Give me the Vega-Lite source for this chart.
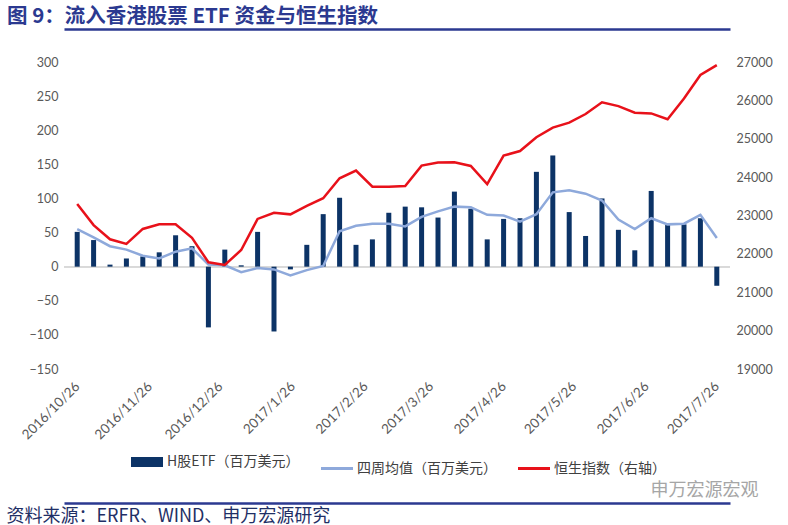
{
  "$schema": "https://vega.github.io/schema/vega-lite/v6.json",
  "autosize": "none",
  "width": 666,
  "height": 307,
  "padding": {"left": 64, "top": 62, "right": 58, "bottom": 156},
  "background": "white",
  "config": {"view": {"stroke": null}, "font": "Noto Sans CJK SC", "axis": {"labelOverlap": false}},
  "title": {
    "text": "图 9：流入香港股票 ETF 资金与恒生指数",
    "anchor": "start",
    "frame": "group",
    "dx": -57,
    "offset": 2,
    "font": "Noto Sans CJK SC",
    "fontSize": 20.5,
    "fontWeight": "bold",
    "color": "#2B3990"
  },
  "data": {
    "values": [
      {"date": "2016-10-26", "etf": 51, "ma4": 55, "hsi": 23300},
      {"date": "2016-11-02", "etf": 39, "ma4": 43, "hsi": 22750},
      {"date": "2016-11-09", "etf": 3, "ma4": 30, "hsi": 22380},
      {"date": "2016-11-16", "etf": 12, "ma4": 25, "hsi": 22260},
      {"date": "2016-11-23", "etf": 15, "ma4": 16, "hsi": 22650},
      {"date": "2016-11-30", "etf": 21, "ma4": 12, "hsi": 22770},
      {"date": "2016-12-07", "etf": 46, "ma4": 22, "hsi": 22770},
      {"date": "2016-12-14", "etf": 30, "ma4": 27, "hsi": 22420},
      {"date": "2016-12-21", "etf": -89, "ma4": 3, "hsi": 21780},
      {"date": "2016-12-28", "etf": 25, "ma4": 2, "hsi": 21710},
      {"date": "2017-01-04", "etf": 2, "ma4": -8, "hsi": 22100},
      {"date": "2017-01-11", "etf": 51, "ma4": -2, "hsi": 22910},
      {"date": "2017-01-18", "etf": -95, "ma4": -4, "hsi": 23070},
      {"date": "2017-01-25", "etf": -4, "ma4": -13, "hsi": 23030},
      {"date": "2017-02-01", "etf": 32, "ma4": -5, "hsi": 23250},
      {"date": "2017-02-08", "etf": 77, "ma4": 1, "hsi": 23450},
      {"date": "2017-02-15", "etf": 101, "ma4": 52, "hsi": 23970},
      {"date": "2017-02-22", "etf": 32, "ma4": 60, "hsi": 24170},
      {"date": "2017-03-01", "etf": 40, "ma4": 63, "hsi": 23750},
      {"date": "2017-03-08", "etf": 79, "ma4": 63, "hsi": 23750},
      {"date": "2017-03-15", "etf": 88, "ma4": 59, "hsi": 23770},
      {"date": "2017-03-22", "etf": 87, "ma4": 73, "hsi": 24300},
      {"date": "2017-03-29", "etf": 72, "ma4": 81, "hsi": 24380},
      {"date": "2017-04-05", "etf": 110, "ma4": 88, "hsi": 24390},
      {"date": "2017-04-12", "etf": 85, "ma4": 87, "hsi": 24290},
      {"date": "2017-04-19", "etf": 40, "ma4": 76, "hsi": 23820},
      {"date": "2017-04-26", "etf": 70, "ma4": 75, "hsi": 24560},
      {"date": "2017-05-03", "etf": 71, "ma4": 66, "hsi": 24680},
      {"date": "2017-05-10", "etf": 139, "ma4": 77, "hsi": 25040},
      {"date": "2017-05-17", "etf": 163, "ma4": 109, "hsi": 25290},
      {"date": "2017-05-24", "etf": 80, "ma4": 112, "hsi": 25420},
      {"date": "2017-05-31", "etf": 45, "ma4": 107, "hsi": 25645},
      {"date": "2017-06-07", "etf": 100, "ma4": 97, "hsi": 25950},
      {"date": "2017-06-14", "etf": 54, "ma4": 69, "hsi": 25850},
      {"date": "2017-06-21", "etf": 24, "ma4": 55, "hsi": 25680},
      {"date": "2017-06-28", "etf": 111, "ma4": 71, "hsi": 25660},
      {"date": "2017-07-05", "etf": 61, "ma4": 62, "hsi": 25510},
      {"date": "2017-07-12", "etf": 62, "ma4": 63, "hsi": 26050},
      {"date": "2017-07-19", "etf": 71, "ma4": 76, "hsi": 26660},
      {"date": "2017-07-26", "etf": -28, "ma4": 42, "hsi": 26920}
    ]
  },
  "layer": [
    {
      "layer": [
        {
          "mark": {"type": "rule", "color": "#D9D9D9", "strokeWidth": 1.5},
          "encoding": {"y": {"datum": 0, "type": "quantitative"}}
        },
        {
          "mark": {"type": "bar", "size": 5},
          "encoding": {
            "x": {
              "field": "date", "type": "temporal",
              "scale": {"type": "utc", "domain": [
                {"year": 2016, "month": 10, "date": 22, "hours": 12, "utc": true},
                {"year": 2017, "month": 7, "date": 29, "hours": 12, "utc": true}
              ]},
              "axis": {
                "orient": "bottom",
                "offset": 134,
                "domain": true, "domainColor": "#2B3990", "domainWidth": 2.5,
                "ticks": false, "grid": false, "tickCount": 20,
                "values": [
                  {"year": 2016, "month": 10, "date": 26, "utc": true},
                  {"year": 2016, "month": 11, "date": 26, "utc": true},
                  {"year": 2016, "month": 12, "date": 26, "utc": true},
                  {"year": 2017, "month": 1, "date": 26, "utc": true},
                  {"year": 2017, "month": 2, "date": 26, "utc": true},
                  {"year": 2017, "month": 3, "date": 26, "utc": true},
                  {"year": 2017, "month": 4, "date": 26, "utc": true},
                  {"year": 2017, "month": 5, "date": 26, "utc": true},
                  {"year": 2017, "month": 6, "date": 26, "utc": true},
                  {"year": 2017, "month": 7, "date": 26, "utc": true}
                ],
                "labelExpr": "utcFormat(datum.value, '%Y/%-m/%-d')",
                "labelAngle": -45, "labelAlign": "right", "labelBaseline": "middle",
                "labelPadding": -119, "labelOverlap": false, "labelBound": false, "labelFlush": false,
                "labelFont": "Lato", "labelFontSize": 13.5, "labelColor": "#595959",
                "title": "资料来源：ERFR、WIND、申万宏源研究",
                "titleX": -58, "titleY": 13, "titleAlign": "left", "titleAnchor": "start",
                "titleBaseline": "middle", "titleAngle": 0,
                "titleFont": "Noto Sans CJK SC", "titleFontSize": 18, "titleFontWeight": "normal",
                "titleColor": "#1F2F66"
              }
            },
            "y": {
              "field": "etf", "type": "quantitative",
              "scale": {"domain": [-150, 300], "nice": false, "zero": false},
              "axis": {
                "orient": "left", "values": [-150, -100, -50, 0, 50, 100, 150, 200, 250, 300],
                "tickCount": 20,
                "domain": false, "ticks": false, "grid": false, "labelPadding": 6,
                "labelOverlap": false, "labelBound": false, "labelFlush": false,
                "labelFont": "Lato", "labelFontSize": 12.5, "labelColor": "#595959", "title": null
              }
            },
            "color": {
              "datum": "H股ETF（百万美元）",
              "type": "nominal",
              "scale": {
                "domain": ["H股ETF（百万美元）", "四周均值（百万美元）", "恒生指数（右轴）"],
                "range": ["#0C3366", "#8EA9DB", "#E8111A"]
              },
              "legend": {
                "orient": "none", "legendX": 76, "legendY": 393, "direction": "horizontal",
                "title": null, "symbolType": "stroke", "symbolSize": 1024, "symbolStrokeWidth": 3,
                "labelFont": "Noto Sans CJK SC", "labelFontSize": 14, "labelColor": "#404040",
                "labelOffset": 13, "columnPadding": 15,
                "encode": {
                  "symbols": {
                    "update": {
                      "strokeWidth": {"signal": "datum.value === 'H股ETF（百万美元）' ? 10 : 3"},
                      "stroke": {"signal": "scale('color', datum.value)"},
                      "strokeCap": {"value": "butt"}
                    }
                  }
                }
              }
            }
          }
        },
        {
          "mark": {"type": "line", "strokeWidth": 2.5},
          "encoding": {
            "x": {"field": "date", "type": "temporal"},
            "y": {"field": "ma4", "type": "quantitative"},
            "color": {"datum": "四周均值（百万美元）", "type": "nominal"}
          }
        }
      ]
    },
    {
      "mark": {"type": "line", "strokeWidth": 2.5},
      "encoding": {
        "x": {
          "field": "date", "type": "temporal",
          "axis": {
            "orient": "top", "offset": 33, "labels": false, "ticks": false, "grid": false,
            "domain": true, "domainColor": "#2B3990", "domainWidth": 2.5, "title": null
          }
        },
        "y": {
          "field": "hsi", "type": "quantitative",
          "scale": {"domain": [19000, 27000], "nice": false, "zero": false},
          "axis": {
            "orient": "right",
            "values": [19000, 20000, 21000, 22000, 23000, 24000, 25000, 26000, 27000],
            "tickCount": 20,
            "format": "d",
            "domain": false, "ticks": false, "grid": false, "labelPadding": 6,
            "labelOverlap": false, "labelBound": false, "labelFlush": false,
            "labelFont": "Lato", "labelFontSize": 12.5, "labelColor": "#595959",
            "title": "申万宏源宏观", "titleAngle": 0, "titleX": -26, "titleY": 428,
            "titleAlign": "center", "titleBaseline": "middle",
            "titleFont": "Noto Sans CJK SC", "titleFontSize": 18, "titleFontWeight": "normal",
            "titleColor": "#A6A6A6"
          }
        },
        "color": {"datum": "恒生指数（右轴）", "type": "nominal"}
      }
    }
  ],
  "resolve": {"scale": {"y": "independent"}, "axis": {"x": "independent"}}
}
